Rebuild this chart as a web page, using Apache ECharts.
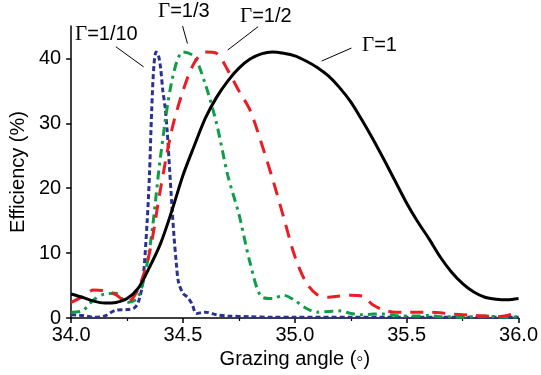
<!DOCTYPE html>
<html><head><meta charset="utf-8">
<script src="https://cdn.jsdelivr.net/npm/echarts@6/dist/echarts.min.js"></script>
<style>html,body{margin:0;padding:0;background:#fff}#c{width:541px;height:375px}</style>
</head><body><div id="c"></div>
<script>
// Grazing angle (deg) shared by Γ=1, Γ=1/2, Γ=1/3
const angles = [34.0,34.05,34.1,34.15,34.2,34.25,34.3,34.35,34.4,34.45,34.5,34.55,34.6,34.65,34.7,34.75,34.8,34.85,34.9,34.95,35.0,35.05,35.1,35.15,35.2,35.25,35.3,35.35,35.4,35.45,35.5,35.55,35.6,35.65,35.7,35.75,35.8,35.85,35.9,35.95,36.0];
const gamma1 = [3.7,3.2,2.6,2.3,2.4,3.0,4.6,7.8,11.5,16.5,22,26.5,30.8,34,36.5,38.5,39.9,40.7,41.0,40.8,40.4,39.6,38.6,37.3,35.5,33.3,30.5,27.5,24.3,21.0,17.7,14.8,12.2,9.4,7.1,5.3,4.0,3.2,2.9,2.8,3.0];
const gammaHalf = [2.4,3.3,4.3,4.2,3.6,2.4,4.5,10,20,29,35,39.3,41.0,40.8,38.2,35,32,27,21.5,15.5,9.5,5.5,3.6,3.2,3.4,3.5,3.4,2.0,1.2,0.9,0.9,0.9,0.9,0.8,0.6,0.5,0.4,0.3,0.2,0.4,0.9];
const gammaThird = [0.9,1.1,2.8,3.7,3.8,2.4,3.2,10.5,25,36.5,41.0,40.3,36,30,22,16,8.5,3.3,3.0,3.5,2.7,1.5,0.9,1.0,1.1,0.7,0.5,0.6,0.6,0.4,0.3,0.3,0.4,0.2,0.2,0.1,0.2,0.3,0.2,0.1,0.2];
// Γ=1/10 has a sharp peak, sampled more finely
const anglesTenth = [34.0,34.05,34.1,34.15,34.2,34.25,34.28,34.3,34.32,34.34,34.35,34.36,34.37,34.38,34.39,34.4,34.41,34.42,34.43,34.44,34.45,34.46,34.47,34.48,34.5,34.52,34.54,34.56,34.6,34.65,34.7,34.8,34.9,35.0,35.25,35.5,35.75,36.0];
const gammaTenth = [0.5,0.4,0.1,0.3,1.2,1.3,1.5,2.4,5.5,15,22,32,38.9,41,40.5,38.5,35,32.5,28.5,23,17.5,12.5,8.5,5.5,3.8,3.2,2.2,0.7,0.9,0.5,0.3,0.2,0.1,0.1,0.1,0.1,0.1,0.1];
const yTicks = [0,10,20,30,40];

const pair = (xs, ys) => xs.map((x,i)=>[x, ys[i]]);
const chart = echarts.init(document.getElementById('c'));
const F = 'Liberation Sans, Arial, sans-serif';
const arrow = (a,b) => ({
  silent:true, symbol:['none','arrow'], symbolSize:[0,9],
  lineStyle:{color:'#000', width:1, type:'solid'}, label:{show:false},
  data:[[{coord:a},{coord:b}]]
});
const gLabel = (txt, x, y) => ({
  type:'text', left:x, top:y,
  style:{text:'{g|Γ}{s|'+txt+'}', rich:{g:{fontFamily:'Liberation Serif, serif', fontSize:21, fill:'#000'}, s:{fontFamily:F, fontSize:20, fill:'#000'}}}
});
chart.setOption({
  animation:false,
  grid:{left:70, right:21, top:26, bottom:57},
  xAxis:{type:'value', min:34, max:36, interval:0.5,
    name:'Grazing angle (\u25E6)', nameLocation:'middle', nameGap:29,
    nameTextStyle:{fontFamily:F, fontSize:20, color:'#000'},
    axisLine:{lineStyle:{color:'#000', width:1.5}},
    axisTick:{length:5, lineStyle:{color:'#000', width:1.5}},
    minorTick:{show:true, splitNumber:2, length:3, lineStyle:{color:'#000', width:1.2}},
    axisLabel:{fontFamily:F, fontSize:20, color:'#000', margin:7, formatter:v=>v.toFixed(1)},
    splitLine:{show:false}},
  yAxis:{type:'value', min:0, max:45,
    name:'Efficiency (%)', nameLocation:'middle', nameGap:40,
    nameTextStyle:{fontFamily:F, fontSize:20, color:'#000'},
    axisLine:{show:true, lineStyle:{color:'#000', width:1.5}},
    axisTick:{show:true, length:5, customValues:yTicks, lineStyle:{color:'#000', width:1.5}},
    axisLabel:{fontFamily:F, fontSize:20, color:'#000', margin:10, customValues:yTicks, showMinLabel:true},
    splitLine:{show:false}},
  graphic:[
    gLabel('=1/10', 75, 24),
    gLabel('=1/3', 158, 1),
    gLabel('=1/2', 240, 6),
    gLabel('=1', 362, 35)
  ],
  series:[
    {type:'line', data:pair(angles,gamma1), smooth:0.3, showSymbol:false, z:5,
      lineStyle:{color:'#000', width:3},
      markLine:arrow([35.253,41.6],[35.12,39.6])},
    {type:'line', data:pair(angles,gammaHalf), smooth:0.3, showSymbol:false, z:4,
      lineStyle:{color:'#ec1c24', width:3, type:[13,9]},
      markLine:arrow([34.836,44.9],[34.70,41.3])},
    {type:'line', data:pair(angles,gammaThird), smooth:0.3, showSymbol:false, z:3,
      lineStyle:{color:'#0f9d48', width:3, type:[9,5,3,5]},
      markLine:arrow([34.498,45.0],[34.52,42.3])},
    {type:'line', data:pair(anglesTenth,gammaTenth), smooth:0.3, showSymbol:false, z:2,
      lineStyle:{color:'#2b3192', width:3, type:[5,3]},
      markLine:arrow([34.2,41.8],[34.324,38.7])}
  ]
});
</script></body></html>
